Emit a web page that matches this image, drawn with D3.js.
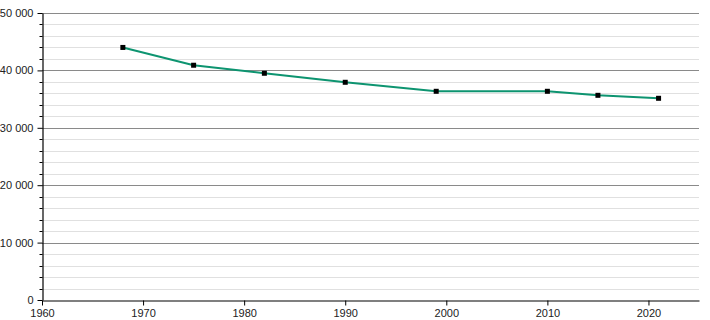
<!DOCTYPE html>
<html>
<head>
<meta charset="utf-8">
<script src="https://cdn.jsdelivr.net/npm/d3@7"></script>
<style>
  body { margin: 0; background: #fff; }
  text { font-family: "Liberation Sans", Arial, sans-serif; font-size: 11px; fill: #222; }
</style>
</head>
<body>
<script>
// population by census year
var years = [1968, 1975, 1982, 1990, 1999, 2010, 2015, 2021];
var population = [44000, 40900, 39500, 37930, 36360, 36360, 35660, 35140];
var xTicks = [1960, 1970, 1980, 1990, 2000, 2010, 2020];
var yTicks = [0, 10000, 20000, 30000, 40000, 50000];

var width = 710, height = 320;
var margin = {left: 42, right: 11, top: 13, bottom: 20};

var svg = d3.select("body").append("svg").attr("width", width).attr("height", height);

var x = d3.scaleLinear().domain([1960, 2025]).range([margin.left, width - margin.right]);
var y = d3.scaleLinear().domain([0, 50000]).range([height - margin.bottom, margin.top]);

var fmt = function (d) { return d3.format(",")(d).replace(/,/g, " "); };

// minor grid every 2000
var minor = d3.range(0, 50001, 2000).filter(function (d) { return d % 10000 != 0; });
svg.append("g").selectAll("line").data(minor).enter().append("line")
    .attr("x1", margin.left).attr("x2", width - margin.right)
    .attr("y1", function (d) { return Math.round(y(d)) + 0.5; })
    .attr("y2", function (d) { return Math.round(y(d)) + 0.5; })
    .attr("stroke", "#e0e0e0");

// major grid
svg.append("g").selectAll("line").data(yTicks.slice(1)).enter().append("line")
    .attr("x1", margin.left).attr("x2", width - margin.right)
    .attr("y1", function (d) { return Math.round(y(d)) + 0.5; })
    .attr("y2", function (d) { return Math.round(y(d)) + 0.5; })
    .attr("stroke", "#8a8a8a");

// y axis
var yAxis = svg.append("g").attr("transform", "translate(" + (margin.left + 0.5) + ",0)")
    .call(d3.axisLeft(y).tickValues(yTicks).tickFormat(fmt).tickSize(5).tickSizeOuter(0));
yAxis.append("g").selectAll("line").data(minor).enter().append("line")
    .attr("x1", -3).attr("x2", 0)
    .attr("y1", function (d) { return Math.round(y(d)) + 0.5; })
    .attr("y2", function (d) { return Math.round(y(d)) + 0.5; })
    .attr("stroke", "#000");

// x axis
var xAxis = svg.append("g").attr("transform", "translate(0," + (height - margin.bottom + 0.5) + ")")
    .call(d3.axisBottom(x).tickValues(xTicks).tickFormat(d3.format("d")).tickSize(5).tickSizeOuter(0));

svg.selectAll(".domain").attr("stroke", "#000").attr("stroke-width", 1.2);
svg.selectAll(".tick text").attr("font-size", 11).attr("font-family", "Liberation Sans, Arial, sans-serif").attr("fill", "#222");
yAxis.selectAll(".tick text").attr("x", -9);
xAxis.selectAll(".tick text").attr("y", 9);

var pts = years.map(function (d, i) { return {year: d, pop: population[i]}; });

svg.append("path").datum(pts)
    .attr("fill", "none")
    .attr("stroke", "#0d9470")
    .attr("stroke-width", 2)
    .attr("d", d3.line().x(function (d) { return x(d.year); }).y(function (d) { return y(d.pop); }));

svg.append("g").selectAll("rect").data(pts).enter().append("rect")
    .attr("x", function (d) { return x(d.year) - 2.5; })
    .attr("y", function (d) { return y(d.pop) - 2.5; })
    .attr("width", 5).attr("height", 5)
    .attr("fill", "#000");
</script>
</body>
</html>
